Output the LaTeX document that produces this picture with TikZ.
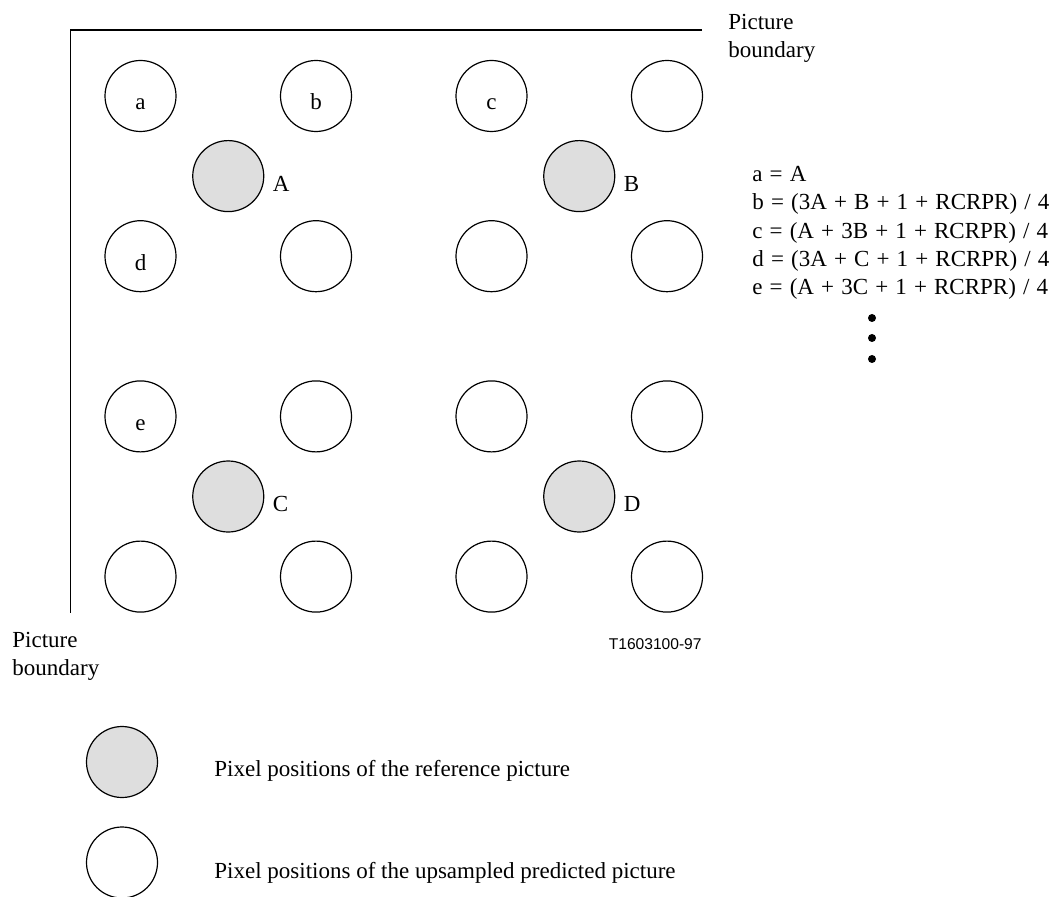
\documentclass[tikz,border=0pt]{standalone}
\usepackage{fontspec}
\setmainfont{Liberation Serif}
\newfontfamily\figsans{Liberation Sans}
\usepackage{tikz}
\usetikzlibrary{positioning}
\definecolor{RefGray}{HTML}{DEDEDE}
\newcommand{\eqspace}{\spaceskip=0.31em\relax}

\begin{document}
\begin{tikzpicture}[
  x=0.5pt, y=-0.5pt,
  every node/.style = {font=\fontsize{11.5}{14}\selectfont},
  pix/.style    = {circle, draw, line width=0.6pt, minimum size=35.5pt, inner sep=0pt},
  refpix/.style = {pix, fill=RefGray},
  ptxt/.style   = {anchor=base, inner sep=0pt},
  rtxt/.style   = {anchor=base west, inner sep=0pt},
  btxt/.style   = {anchor=north west, inner sep=0pt, align=left},
  bnd/.style    = {line width=0.6pt},
]
\useasboundingbox (0,0) rectangle (1058,897);
\coordinate (corner)  at (70.5,30);
\coordinate (topend)  at (702,30);
\coordinate (leftend) at (70.5,613);
\draw[bnd] (topend) -- (corner) -- (leftend);
\node[btxt] (bndtop) at (728,13.5)  {Picture\\boundary};
\node[btxt] (bndbot) at (12,632.3)  {Picture\\boundary};
\foreach \i in {0,...,3}
  \foreach \j in {0,...,3}
    \node[pix] (p-\i-\j) at ({140.5+175.5*\i},{96+160.2*\j}) {};
\node[ptxt] at ([yshift=-7pt]p-0-0.center) {a};
\node[ptxt] at ([yshift=-7pt]p-1-0.center) {b};
\node[ptxt] at ([yshift=-7pt]p-2-0.center) {c};
\node[ptxt] at ([yshift=-7pt]p-0-1.center) {d};
\node[ptxt] at ([yshift=-7pt]p-0-2.center) {e};
\node[refpix] (refA) at (228.25,176.1) {};
\node[refpix] (refB) at (579.25,176.1) {};
\node[refpix] (refC) at (228.25,496.5) {};
\node[refpix] (refD) at (579.25,496.5) {};
\foreach \r in {A,B,C,D}
  \node[rtxt] at ([xshift=4pt,yshift=-7.5pt]ref\r.east) {\r};
\node[anchor=base east, inner sep=0pt, font=\figsans\fontsize{7.8}{9}\selectfont]
  (code) at (702,649) {T1603100-97};
\node[rtxt] (eq0) at (752,181.7) {\eqspace a = A};
\node[rtxt] (eq1) at (752,210.0) {\eqspace b = (3A + B + 1 + RCRPR) / 4};
\node[rtxt] (eq2) at (752,238.3) {\eqspace c = (A + 3B + 1 + RCRPR) / 4};
\node[rtxt] (eq3) at (752,266.6) {\eqspace d = (3A + C + 1 + RCRPR) / 4};
\node[rtxt] (eq4) at (752,294.9) {\eqspace e = (A + 3C + 1 + RCRPR) / 4};
\foreach \dy in {318,338,359}
  \fill (872,\dy) circle (2pt);
\node[refpix] (keyref) at (122,762)   {};
\node[pix]    (keyup)  at (122,862.5) {};
\node[rtxt] (keyreftxt) at (214,776) {Pixel positions of the reference picture};
\node[rtxt] (keyuptxt)  at (214,878) {Pixel positions of the upsampled predicted picture};
\end{tikzpicture}
\end{document}
